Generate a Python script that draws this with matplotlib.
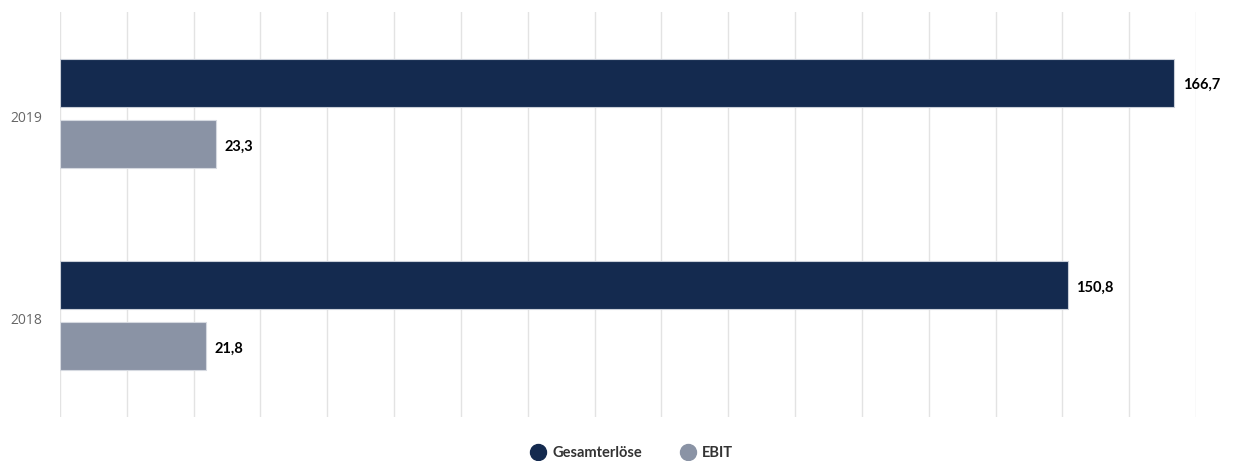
import matplotlib
matplotlib.use("Agg")
import matplotlib.pyplot as plt
from matplotlib.lines import Line2D
import matplotlib.transforms as mtransforms
import numpy as np

years = ["2019", "2018"]
gesamt = [166.7, 150.8]
ebit = [23.3, 21.8]
labels_gesamt = ["166,7", "150,8"]
labels_ebit = ["23,3", "21,8"]
series_names = ["Gesamterlöse", "EBIT"]
colors = ["#142a4f", "#8a93a5"]

plt.rcParams['font.family'] = ['Open Sans', 'DejaVu Sans']

fig = plt.figure(figsize=(12.55, 4.61), dpi=100)
ax = fig.add_axes([60/1255, 1-417/461, (1196-60)/1255, (417-12)/461])

y = np.arange(len(years))
off = 0.151
h = 0.236
b1 = ax.barh(y - off, gesamt, height=h, color=colors[0], edgecolor="#c9ced8", linewidth=0.8, zorder=3)
b2 = ax.barh(y + off, ebit, height=h, color=colors[1], edgecolor="#d5d9e0", linewidth=0.8, zorder=3)

shift_lab = mtransforms.ScaledTranslation(0, -2.5/100, fig.dpi_scale_trans)
for bars, labs in ((b1, labels_gesamt), (b2, labels_ebit)):
    for rect, lab in zip(bars, labs):
        ax.text(rect.get_width() + 1.3, rect.get_y() + rect.get_height()/2, lab,
                ha="left", va="center", fontsize=10.5, fontweight="bold",
                family=["Lato", "DejaVu Sans"], color="#000000", zorder=4,
                transform=ax.transData + shift_lab)

ax.set_xlim(0, 170)
ax.set_ylim(1.5, -0.5)
ax.set_xticks(np.arange(0, 171, 10))
ax.set_xticklabels([])
ax.set_yticks(y)
ax.set_yticklabels(years, fontsize=10, color="#666666")
ax.tick_params(axis="both", length=0)
ax.tick_params(axis="y", pad=13)
shift = mtransforms.ScaledTranslation(0, -3/100, fig.dpi_scale_trans)
for lbl in ax.get_yticklabels():
    lbl.set_transform(lbl.get_transform() + shift)
ax.grid(axis="x", color="#e3e3e3", linewidth=1, zorder=0)
for s in ax.spines.values():
    s.set_visible(False)

handles = [Line2D([0], [0], marker="o", color="none", markerfacecolor=c, markeredgecolor=c,
                  markersize=11.5) for c in colors]
leg = fig.legend(handles, series_names, loc="center", bbox_to_anchor=(632/1255, 1-453/461),
                 ncol=2, frameon=False, handletextpad=0.5, columnspacing=2.6, handlelength=1.0,
                 prop={"family": ["Lato", "DejaVu Sans"], "weight": "bold", "size": 10.5})
for t in leg.get_texts():
    t.set_color("#333333")

fig.savefig("out.png", dpi=100)
